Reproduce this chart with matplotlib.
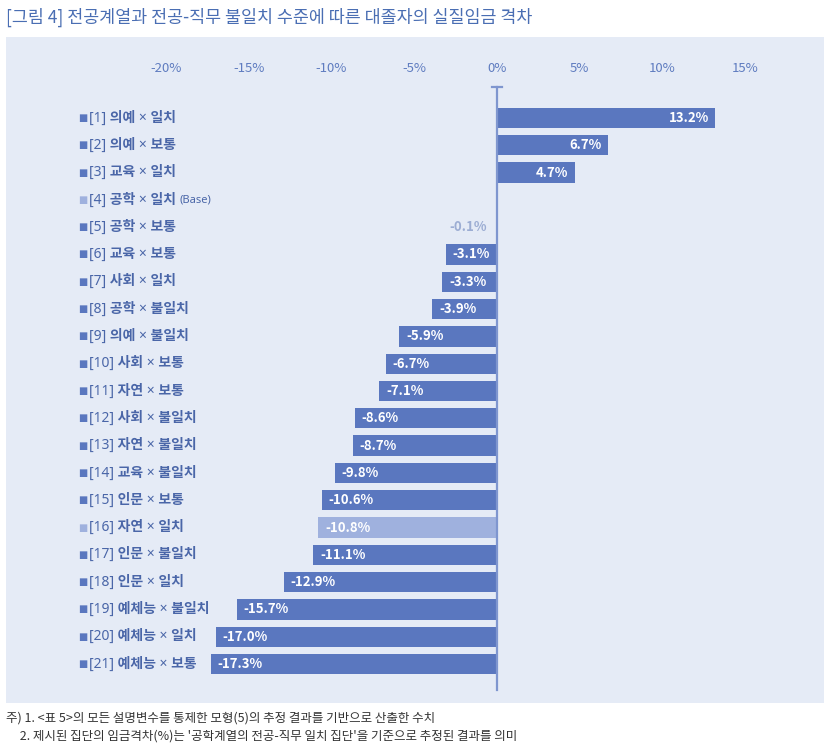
import matplotlib
matplotlib.use("Agg")
import matplotlib.pyplot as plt
import matplotlib.transforms as mtransforms

plt.rcParams['font.family'] = ['Noto Sans CJK KR', 'DejaVu Sans']

# data
labels = ["[1] 의예 × 일치", "[2] 의예 × 보통", "[3] 교육 × 일치", "[4] 공학 × 일치 (Base)",
          "[5] 공학 × 보통", "[6] 교육 × 보통", "[7] 사회 × 일치", "[8] 공학 × 불일치",
          "[9] 의예 × 불일치", "[10] 사회 × 보통", "[11] 자연 × 보통", "[12] 사회 × 불일치",
          "[13] 자연 × 불일치", "[14] 교육 × 불일치", "[15] 인문 × 보통", "[16] 자연 × 일치",
          "[17] 인문 × 불일치", "[18] 인문 × 일치", "[19] 예체능 × 불일치", "[20] 예체능 × 일치",
          "[21] 예체능 × 보통"]
values = [13.2, 6.7, 4.7, None, -0.1, -3.1, -3.3, -3.9, -5.9, -6.7, -7.1, -8.6,
          -8.7, -9.8, -10.6, -10.8, -11.1, -12.9, -15.7, -17.0, -17.3]
light_rows = [3, 15]   # base and row 16 drawn lighter
xticks = [-20, -15, -10, -5, 0, 5, 10, 15]

title = "[그림 4] 전공계열과 전공-직무 불일치 수준에 따른 대졸자의 실질임금 격차"
notes = ["주) 1. <표 5>의 모든 설명변수를 통제한 모형(5)의 추정 결과를 기반으로 산출한 수치",
         "     2. 제시된 집단의 임금격차(%)는 '공학계열의 전공-직무 일치 집단'을 기준으로 추정된 결과를 의미"]

W, H = 824, 750
fig = plt.figure(figsize=(W / 100, H / 100), dpi=100)
fig.patch.set_facecolor("white")

# axes covers the light panel
ax = fig.add_axes([6 / W, 1 - 703 / H, 818 / W, 666 / H])
ax.set_facecolor("#e5ebf6")
for s in ax.spines.values():
    s.set_visible(False)
ax.set_xticks([])
ax.set_yticks([])

px_per = 16.55
x0 = 497
ax.set_xlim((6 - x0) / px_per, (824 - x0) / px_per)
row0, step = 118, 27.3
ax.set_ylim((703 - row0) / step, (37 - row0) / step)

bar_col = "#5a77bf"
light_col = "#9fb1de"
text_col = "#4a66a8"
lab_fam = ['Noto Sans', 'Noto Sans CJK KR']

for i, (lab, v) in enumerate(zip(labels, values)):
    col = light_col if i in light_rows else bar_col
    if v is not None and abs(v) >= 0.5:
        ax.barh(i, v, height=0.74, color=col, edgecolor="none", zorder=2)
        if v > 0:
            ax.text(v - 0.4, i, f"{v:.1f}%", ha="right", va="center",
                    color="white", fontsize=9.5, fontweight="bold", zorder=3)
        else:
            ax.text(v + 0.4, i, f"{v:.1f}%", ha="left", va="center",
                    color="white", fontsize=9.5, fontweight="bold", zorder=3)
    elif v is not None:
        ax.text(v - 0.5, i, f"{v:.1f}%", ha="right", va="center",
                color="#9cadd3", fontsize=9.5, fontweight="bold", zorder=3)

# category labels on the left
trans = mtransforms.blended_transform_factory(fig.transFigure, ax.transData)
for i, lab in enumerate(labels):
    sq = light_col if i in light_rows else bar_col
    ax.text(78 / W, i, "■", transform=trans, ha="left", va="center",
            color=sq, fontsize=7, family=['DejaVu Sans'])
    if "(Base)" in lab:
        main = lab.replace(" (Base)", "")
        t = ax.text(89 / W, i, main, transform=trans, ha="left", va="center",
                    color=text_col, fontsize=10, fontweight="bold", family=lab_fam)
        fig.canvas.draw()
        bb = t.get_window_extent()
        ax.text((bb.x1 + 3) / W, i, "(Base)", transform=trans, ha="left",
                va="center", color=text_col, fontsize=8, fontweight="bold",
                family=lab_fam)
    else:
        ax.text(89 / W, i, lab, transform=trans, ha="left", va="center",
                color=text_col, fontsize=10, fontweight="bold", family=lab_fam)

# tick labels on top
for t in xticks:
    ax.text(t, (68 - row0) / step, f"{t}%", ha="center", va="center",
            color="#5f7cc0", fontsize=9.5)

# zero axis line with small cap
ax.plot([0, 0], [(87 - row0) / step, (690 - row0) / step], color="#7f96cf",
        lw=1.6, zorder=4)
ax.plot([-0.3, 0.3], [(87 - row0) / step] * 2, color="#7f96cf", lw=1.6, zorder=4)

# title and notes
fig.text(6 / W, 1 - 17 / H, title, ha="left", va="center", color="#4a6eb3",
         fontsize=12.5)
fig.text(6 / W, 1 - 718 / H, notes[0], ha="left", va="center", color="#333333",
         fontsize=9)
fig.text(6 / W, 1 - 736 / H, notes[1], ha="left", va="center", color="#333333",
         fontsize=9)

fig.savefig("out.png", dpi=100)
